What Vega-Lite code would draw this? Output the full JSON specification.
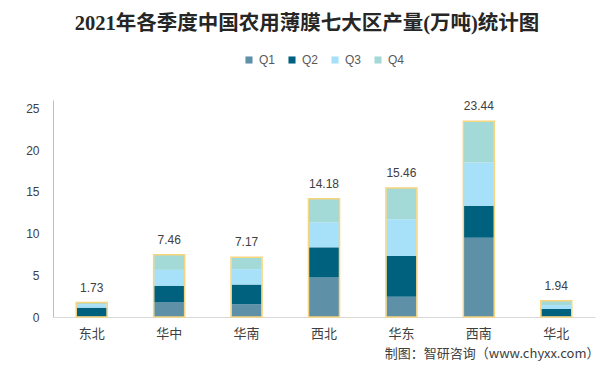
{
  "$schema": "https://vega.github.io/schema/vega-lite/v6.json",
  "width": 542,
  "height": 217,
  "autosize": {"type": "none"},
  "padding": {"left": 53, "top": 100, "right": 18, "bottom": 51},
  "background": "#ffffff",
  "title": {
    "text": "2021年各季度中国农用薄膜七大区产量(万吨)统计图",
    "font": "Liberation Serif, Noto Sans CJK SC",
    "fontSize": 20.5,
    "fontWeight": "bold",
    "color": "#262626",
    "anchor": "middle",
    "frame": "group",
    "dx": -17,
    "offset": 20
  },
  "config": {
    "view": {"stroke": null},
    "font": "Liberation Sans, Noto Sans CJK SC"
  },
  "data": {
    "values": [
      {"region": "东北", "q": "Q1", "value": 0.03},
      {"region": "东北", "q": "Q2", "value": 1.09},
      {"region": "东北", "q": "Q3", "value": 0.42},
      {"region": "东北", "q": "Q4", "value": 0.19},
      {"region": "华中", "q": "Q1", "value": 1.80},
      {"region": "华中", "q": "Q2", "value": 1.95},
      {"region": "华中", "q": "Q3", "value": 1.90},
      {"region": "华中", "q": "Q4", "value": 1.81},
      {"region": "华南", "q": "Q1", "value": 1.54},
      {"region": "华南", "q": "Q2", "value": 2.35},
      {"region": "华南", "q": "Q3", "value": 1.84},
      {"region": "华南", "q": "Q4", "value": 1.44},
      {"region": "西北", "q": "Q1", "value": 4.73},
      {"region": "西北", "q": "Q2", "value": 3.62},
      {"region": "西北", "q": "Q3", "value": 3.00},
      {"region": "西北", "q": "Q4", "value": 2.83},
      {"region": "华东", "q": "Q1", "value": 2.42},
      {"region": "华东", "q": "Q2", "value": 4.89},
      {"region": "华东", "q": "Q3", "value": 4.39},
      {"region": "华东", "q": "Q4", "value": 3.76},
      {"region": "西南", "q": "Q1", "value": 9.50},
      {"region": "西南", "q": "Q2", "value": 3.82},
      {"region": "西南", "q": "Q3", "value": 5.19},
      {"region": "西南", "q": "Q4", "value": 4.93},
      {"region": "华北", "q": "Q1", "value": 0.03},
      {"region": "华北", "q": "Q2", "value": 0.93},
      {"region": "华北", "q": "Q3", "value": 0.46},
      {"region": "华北", "q": "Q4", "value": 0.52}
    ]
  },
  "encoding": {
    "x": {
      "field": "region",
      "type": "nominal",
      "sort": ["东北", "华中", "华南", "西北", "华东", "西南", "华北"],
      "scale": {"paddingInner": 0.61, "paddingOuter": 0.305},
      "axis": {
        "labelAngle": 0,
        "labelFont": "Noto Sans CJK SC",
        "labelFontSize": 13,
        "labelColor": "#404040",
        "labelPadding": 10,
        "ticks": false,
        "domainColor": "#d9d9d9",
        "domainWidth": 1,
        "title": "制图：智研咨询（www.chyxx.com）",
        "titleFont": "Noto Sans CJK SC",
        "titleFontSize": 13,
        "titleFontWeight": "normal",
        "titleColor": "#404040",
        "titleAlign": "right",
        "titleAnchor": "end",
        "titleBaseline": "alphabetic",
        "titleX": 546,
        "titleY": 40
      }
    }
  },
  "layer": [
    {
      "mark": {"type": "bar", "width": 30},
      "encoding": {
        "y": {
          "field": "value",
          "type": "quantitative",
          "stack": "zero",
          "scale": {"domain": [0, 25]},
          "axis": {
            "values": [0, 5, 10, 15, 20, 25],
            "grid": false,
            "ticks": false,
            "labelFontSize": 12,
            "labelColor": "#404040",
            "labelPadding": 14,
            "domainColor": "#bfbfbf",
            "title": null
          }
        },
        "color": {
          "field": "q",
          "type": "nominal",
          "scale": {
            "domain": ["Q1", "Q2", "Q3", "Q4"],
            "range": ["#5e91a8", "#00617f", "#a6e1f9", "#a3d9d6"]
          },
          "legend": {
            "orient": "none",
            "legendX": 190,
            "legendY": -46,
            "direction": "horizontal",
            "title": null,
            "symbolType": "square",
            "symbolSize": 50,
            "symbolStrokeWidth": 0,
            "labelFontSize": 12,
            "labelColor": "#595959",
            "labelOffset": 4,
            "columnPadding": 10
          }
        },
        "order": {"field": "q", "sort": "ascending"}
      }
    },
    {
      "mark": {"type": "bar", "width": 31, "fill": null, "fillOpacity": 0, "stroke": "#f7d47e", "strokeWidth": 1.5},
      "encoding": {
        "y": {"aggregate": "sum", "field": "value", "type": "quantitative"}
      }
    },
    {
      "mark": {"type": "text", "dy": -11, "baseline": "alphabetic", "fontSize": 12, "color": "#404040"},
      "encoding": {
        "y": {"aggregate": "sum", "field": "value", "type": "quantitative"},
        "text": {"aggregate": "sum", "field": "value", "type": "quantitative", "format": ".2f"}
      }
    }
  ]
}
